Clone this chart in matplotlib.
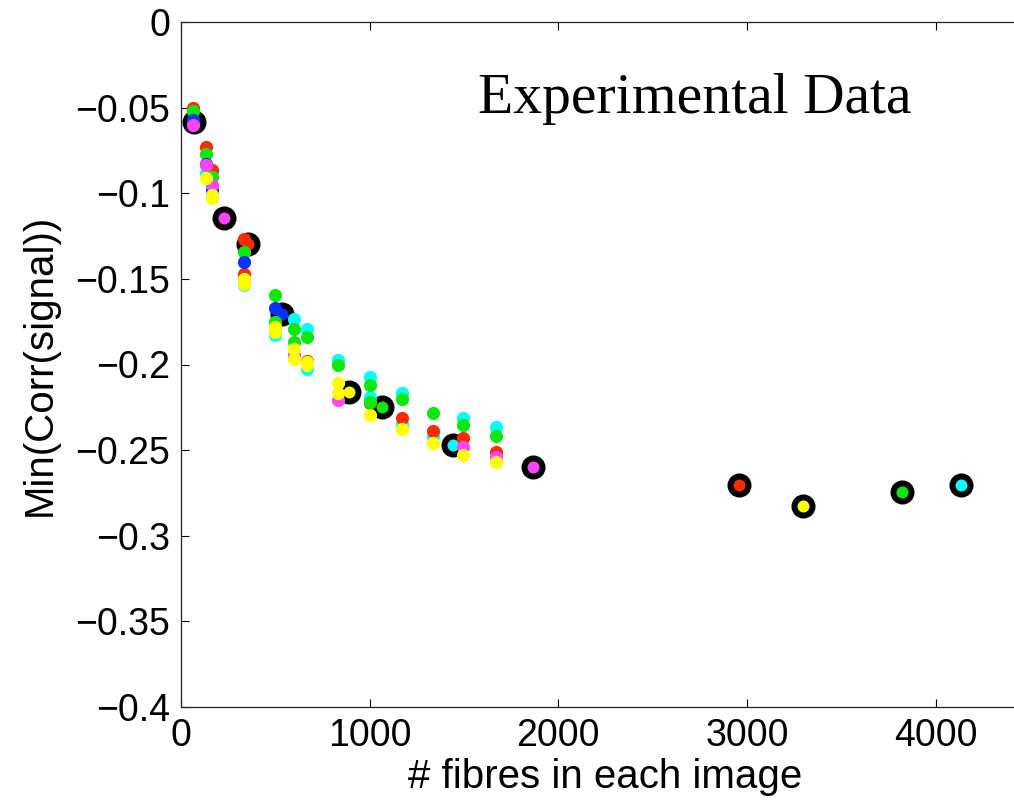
import matplotlib
matplotlib.use('Agg')
import matplotlib.pyplot as plt

plt.rcParams['font.family'] = ['Liberation Sans', 'DejaVu Sans']

# colours of the series (MATLAB-ish)
colors = {
    'red': '#ff2a00',
    'green': '#10e610',
    'blue': '#0a32ff',
    'magenta': '#ff44ff',
    'cyan': '#00ffff',
    'yellow': '#ffff00',
}

# small dots: (x, y) per colour
red_x = [64, 132, 164, 334, 334, 668, 1002, 1171, 1335, 1494, 1669]
red_y = [-0.050, -0.073, -0.0865, -0.127, -0.147, -0.198, -0.2225, -0.2313, -0.2389, -0.243, -0.2512]

green_x = [64, 132, 164, 334, 498, 498, 599, 599, 668, 832, 1002, 1002, 1171, 1335, 1494, 1669]
green_y = [-0.052, -0.077, -0.0905, -0.1343, -0.1595, -0.175, -0.179, -0.187, -0.184, -0.2003,
           -0.212, -0.222, -0.220, -0.2284, -0.2354, -0.2418]

blue_x = [64, 132, 164, 334, 498]
blue_y = [-0.057, -0.083, -0.098, -0.140, -0.167]

magenta_x = [64, 132, 164, 599, 832, 1494, 1669]
magenta_y = [-0.060, -0.0835, -0.095, -0.1945, -0.221, -0.2482, -0.2541]

cyan_x = [132, 164, 334, 498, 599, 668, 668, 832, 1002, 1002, 1171, 1171, 1335, 1494, 1669]
cyan_y = [-0.088, -0.0876, -0.1535, -0.183, -0.1735, -0.179, -0.2027, -0.1974, -0.2074, -0.219,
          -0.2167, -0.2348, -0.2418, -0.2313, -0.2366]

yellow_x = [132, 164, 164, 334, 334, 498, 498, 599, 599, 668, 668, 832, 832, 1002, 1171, 1335, 1494, 1669]
yellow_y = [-0.091, -0.101, -0.103, -0.150, -0.153, -0.178, -0.181, -0.191, -0.197, -0.1986, -0.200,
            -0.211, -0.2167, -0.2296, -0.2377, -0.2459, -0.2529, -0.257]

# big black-ringed points
mean_x = [69, 228, 355, 535, 890, 1063, 1442, 1865, 2957, 3296, 3821, 4133]
mean_y = [-0.0584, -0.1145, -0.1297, -0.1706, -0.216, -0.2249, -0.247, -0.260,
          -0.2704, -0.2827, -0.2745, -0.2704]
mean_c = ['blue', 'magenta', 'red', 'blue', 'yellow', 'green', 'cyan', 'magenta',
          'red', 'yellow', 'green', 'cyan']

yticks = [-0.4, -0.35, -0.3, -0.25, -0.2, -0.15, -0.1, -0.05, 0]
ytick_labels = ['\u22120.4', '\u22120.35', '\u22120.3', '\u22120.25', '\u22120.2',
                '\u22120.15', '\u22120.1', '\u22120.05', '0']
xticks = [0, 1000, 2000, 3000, 4000]

fig = plt.figure(figsize=(10.14, 8.02), dpi=100)
# axes run just past the right edge of the figure, as in the original
ax = fig.add_axes([181 / 1014, 95 / 802, 849 / 1014, 685 / 802])

for x, y, c in zip(mean_x, mean_y, mean_c):
    ax.plot(x, y, 'o', ms=13, mfc=colors[c], mec='black', mew=4.3, zorder=2)

series = [(cyan_x, cyan_y, 'cyan'), (red_x, red_y, 'red'), (green_x, green_y, 'green'),
          (blue_x, blue_y, 'blue'), (magenta_x, magenta_y, 'magenta'),
          (yellow_x, yellow_y, 'yellow')]
for xs, ys, c in series:
    ax.plot(xs, ys, 'o', ms=9.5, color=colors[c], mec=colors[c], mew=0, zorder=3)

ax.set_xlim(0, 4500)
ax.set_ylim(-0.4, 0)
ax.set_xticks(xticks)
ax.set_xticklabels([str(t) for t in xticks])
ax.set_yticks(yticks)
ax.set_yticklabels(ytick_labels)
ax.tick_params(direction='in', length=6, width=0.8, labelsize=27, top=True, right=False, pad=8)

for s in ax.spines.values():
    s.set_linewidth(0.9)
    s.set_color('#222222')
ax.spines['right'].set_visible(False)

ax.set_xlabel('# fibres in each image', fontsize=29, labelpad=3)
ax.set_ylabel('Min(Corr(signal))', fontsize=29, labelpad=12)

ax.text(1574, -0.0532, 'Experimental Data', family='Liberation Serif', fontsize=41.5,
        ha='left', va='baseline')

fig.savefig('out.png', dpi=100)
